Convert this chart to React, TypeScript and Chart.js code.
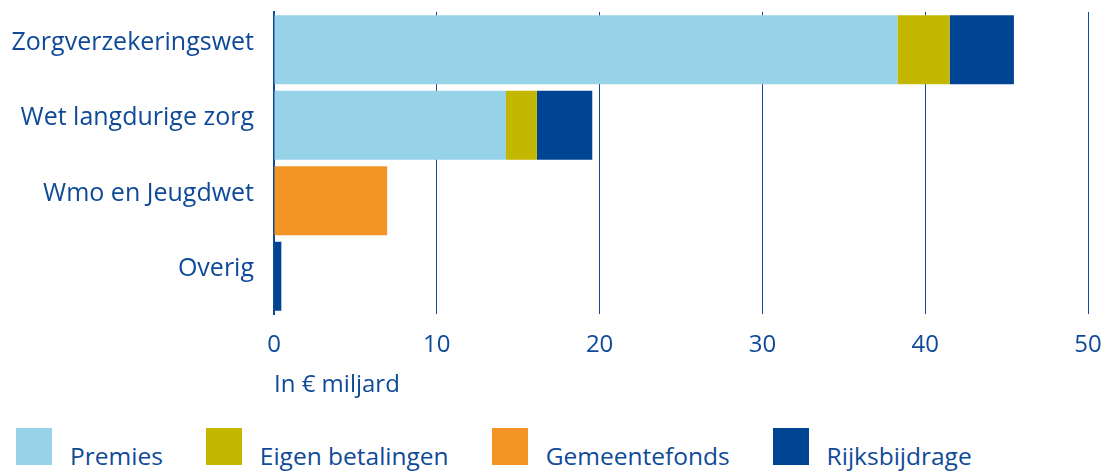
import React, { useEffect, useRef } from "react";
import { Chart, registerables } from "chart.js";

Chart.register(...registerables);

const categories = ["Zorgverzekeringswet", "Wet langdurige zorg", "Wmo en Jeugdwet", "Overig"];
const premies = [38.3, 14.25, 0, 0];
const eigenBetalingen = [3.2, 1.9, 0, 0];
const gemeentefonds = [0, 0, 6.95, 0];
const rijksbijdrage = [3.95, 3.4, 0, 0.45];
const xTicks = [0, 10, 20, 30, 40, 50];

const seriesNames = ["Premies", "Eigen betalingen", "Gemeentefonds", "Rijksbijdrage"];
const seriesColors = ["#96D3E8", "#C3B700", "#F39427", "#004494"];
const TEXT = "#0F4A98";
const FONT = "'Open Sans', sans-serif";

export default function App() {
  const ref = useRef<HTMLCanvasElement | null>(null);

  useEffect(() => {
    document.body.style.margin = "0";
    const values = [premies, eigenBetalingen, gemeentefonds, rijksbijdrage];
    const chart = new Chart(ref.current as HTMLCanvasElement, {
      type: "bar",
      data: {
        labels: categories,
        datasets: seriesNames.map((n, i) => ({
          label: n,
          data: values[i],
          backgroundColor: seriesColors[i],
          borderWidth: 0,
          barPercentage: 0.914,
          categoryPercentage: 1,
        })),
      },
      options: {
        indexAxis: "y",
        animation: false,
        responsive: true,
        maintainAspectRatio: false,
        layout: { padding: { top: 12, right: 18, left: 0, bottom: 0 } },
        plugins: { legend: { display: false }, tooltip: { enabled: false } },
        scales: {
          x: {
            stacked: true,
            min: 0,
            max: 50,
            afterBuildTicks: (s: any) => {
              s.ticks = xTicks.map((v) => ({ value: v }));
            },
            afterFit: (s: any) => {
              s.height = 91;
              s.paddingLeft = 0;
              s.paddingRight = 0;
            },
            grid: { color: "#0F4A98", lineWidth: 1, drawTicks: false },
            border: { display: false },
            ticks: { color: TEXT, font: { family: FONT, size: 24 }, padding: 17 },
            title: {
              display: true,
              text: "In € miljard",
              align: "start",
              color: TEXT,
              font: { family: FONT, size: 24 },
              padding: { top: 0, bottom: 5 },
            },
          },
          y: {
            stacked: true,
            afterFit: (s: any) => {
              s.width = 274;
              s.paddingTop = 0;
              s.paddingBottom = 0;
            },
            grid: { display: false, drawTicks: false },
            border: { display: true, color: "#0F4A98", width: 2 },
            ticks: { color: TEXT, font: { family: FONT, size: 25 }, padding: 20, labelOffset: -7 },
          },
        },
      },
    });
    return () => chart.destroy();
  }, []);

  return (
    <div style={{ position: "relative", width: 1106, height: 473, fontFamily: FONT }}>
      <div style={{ position: "absolute", left: 0, top: 0, width: 1106, height: 405 }}>
        <canvas ref={ref} />
      </div>
      <div style={{ position: "absolute", left: 16, top: 428, display: "flex", alignItems: "flex-end" }}>
        {seriesNames.map((n, i) => (
          <div key={n} style={{ display: "flex", alignItems: "flex-end", marginRight: 43 }}>
            <div style={{ width: 36, height: 37, background: seriesColors[i] }} />
            <span style={{ marginLeft: 18, fontSize: 24.5, color: TEXT, lineHeight: "26px", marginBottom: -4 }}>{n}</span>
          </div>
        ))}
      </div>
    </div>
  );
}
